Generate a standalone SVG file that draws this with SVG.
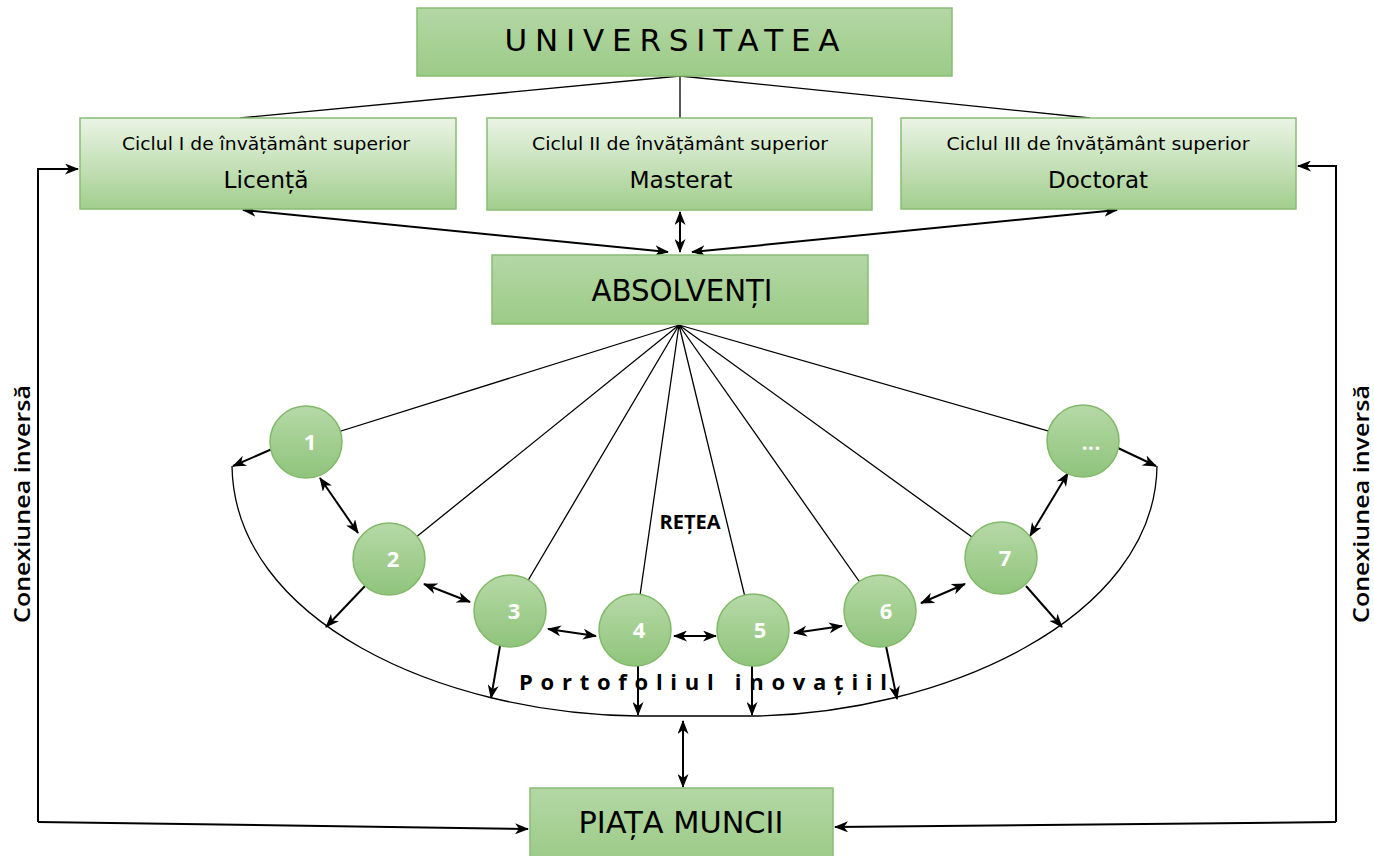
<svg xmlns="http://www.w3.org/2000/svg" width="1374" height="856" viewBox="0 0 1374 856">
<defs>
<linearGradient id="gBox" x1="0" y1="0" x2="0" y2="1">
<stop offset="0" stop-color="#b4d7a5"/><stop offset="1" stop-color="#9ccb87"/>
</linearGradient>
<linearGradient id="gCyc" x1="0" y1="0" x2="0" y2="1">
<stop offset="0" stop-color="#eaf4e5"/><stop offset="1" stop-color="#a2ce8e"/>
</linearGradient>
<linearGradient id="gCir" x1="0" y1="0" x2="0" y2="1">
<stop offset="0" stop-color="#b6d9a7"/><stop offset="1" stop-color="#8fc47b"/>
</linearGradient>
<marker id="ah" viewBox="0 0 14 11" refX="13" refY="5.5" markerWidth="14" markerHeight="11" orient="auto-start-reverse" markerUnits="userSpaceOnUse">
<path d="M0,0 L14,5.5 L0,11 L4,5.5 z" fill="#000"/>
</marker>
</defs>
<style>
.box{fill:url(#gBox);stroke:#88bd74;stroke-width:1.5}
.cyc{fill:url(#gCyc);stroke:#88bd74;stroke-width:1.5}
.cir{fill:url(#gCir);stroke:#80b968;stroke-width:1.5}
.ln{stroke:#000;stroke-width:1.3;fill:none}
.ar{stroke:#000;stroke-width:2;fill:none;marker-end:url(#ah)}
.da{stroke:#000;stroke-width:2;fill:none;marker-end:url(#ah);marker-start:url(#ah)}
.t{font-family:"DejaVu Sans",Verdana,sans-serif;fill:#000;text-anchor:middle}
.num{font-family:"Open Sans","DejaVu Sans",sans-serif;font-weight:bold;font-size:22px;fill:#fff;text-anchor:middle}
.b{font-family:"Open Sans","DejaVu Sans",sans-serif;font-weight:bold;fill:#000;text-anchor:middle}
</style>
<rect width="1374" height="856" fill="#fff"/>
<g id="connectors">
<path class="ln" d="M680,76 L240,118 M680,76 L680,118 M680,76 L1090,118"/>
<line class="da" x1="680" y1="212" x2="680" y2="252"/>
<line class="da" x1="668" y1="252" x2="243" y2="210"/>
<line class="da" x1="692" y1="252" x2="1117" y2="210"/>
<path class="ln" d="M679,325 L306,442 M679,325 L389,559 M679,325 L510,611 M679,325 L635,630 M679,325 L753,630 M679,325 L880,611 M679,325 L1001,558 M679,325 L1083,441"/>
<path class="ln" d="M232,466 C234,620 440,714 638,716 L752,716 C940,714 1155,620 1157,466"/>
<line class="ar" x1="272" y1="449" x2="233" y2="466"/>
<line class="ar" x1="365" y1="586" x2="326" y2="627"/>
<line class="ar" x1="500" y1="646" x2="491" y2="698"/>
<line class="ar" x1="638" y1="666" x2="638" y2="715"/>
<line class="ar" x1="752" y1="666" x2="752" y2="715"/>
<line class="ar" x1="886" y1="646" x2="897" y2="699"/>
<line class="ar" x1="1026" y1="586" x2="1062" y2="627"/>
<line class="ar" x1="1118" y1="448" x2="1156" y2="466"/>
<line class="da" x1="320" y1="478" x2="358" y2="533"/>
<line class="da" x1="424" y1="584" x2="470" y2="602"/>
<line class="da" x1="548" y1="629" x2="596" y2="636"/>
<line class="da" x1="674" y1="636" x2="716" y2="636"/>
<line class="da" x1="794" y1="633" x2="842" y2="626"/>
<line class="da" x1="921" y1="603" x2="965" y2="584"/>
<line class="da" x1="1030" y1="536" x2="1068" y2="473"/>
<line class="da" x1="683" y1="721" x2="683" y2="787"/>
<polyline class="ar" points="38,822 38,169 78,169"/>
<polyline class="ar" points="38,822 528,829"/>
<polyline class="ar" points="1336,822 1336,166 1298,166"/>
<polyline class="ar" points="1336,822 835,827"/>
</g>
<g id="universitatea">
<rect class="box" x="417" y="8" width="535" height="68"/>
<text class="t" x="672" y="51" font-size="31" textLength="335" lengthAdjust="spacing">UNIVERSITATEA</text>
</g>
<g id="licenta">
<rect class="cyc" x="80" y="118" width="376" height="91"/>
<text class="t" x="266" y="150" font-size="18" textLength="288" lengthAdjust="spacingAndGlyphs">Ciclul I de învățământ superior</text>
<text class="t" x="266" y="188" font-size="23" textLength="85" lengthAdjust="spacingAndGlyphs">Licență</text>
</g>
<g id="masterat">
<rect class="cyc" x="487" y="118" width="385" height="92"/>
<text class="t" x="680" y="150" font-size="18" textLength="296" lengthAdjust="spacingAndGlyphs">Ciclul II de învățământ superior</text>
<text class="t" x="681" y="188" font-size="23" textLength="103" lengthAdjust="spacingAndGlyphs">Masterat</text>
</g>
<g id="doctorat">
<rect class="cyc" x="901" y="118" width="395" height="91"/>
<text class="t" x="1098" y="150" font-size="18" textLength="303" lengthAdjust="spacingAndGlyphs">Ciclul III de învățământ superior</text>
<text class="t" x="1098" y="188" font-size="23" textLength="100" lengthAdjust="spacingAndGlyphs">Doctorat</text>
</g>
<g id="absolventi">
<rect class="box" x="492" y="255" width="376" height="69"/>
<text class="t" x="682" y="301" font-size="31" textLength="181" lengthAdjust="spacingAndGlyphs">ABSOLVENȚI</text>
</g>
<g id="piata">
<rect class="box" x="530" y="788" width="303" height="72"/>
<text class="t" x="681" y="833" font-size="31" textLength="205" lengthAdjust="spacingAndGlyphs">PIAȚA MUNCII</text>
</g>
<g id="n1"><circle class="cir" cx="306" cy="442" r="36"/><text class="num" x="310" y="450">1</text></g>
<g id="n2"><circle class="cir" cx="389" cy="559" r="36"/><text class="num" x="393" y="567">2</text></g>
<g id="n3"><circle class="cir" cx="510" cy="611" r="36"/><text class="num" x="514" y="619">3</text></g>
<g id="n4"><circle class="cir" cx="635" cy="630" r="36"/><text class="num" x="639" y="638">4</text></g>
<g id="n5"><circle class="cir" cx="753" cy="630" r="36"/><text class="num" x="760" y="638">5</text></g>
<g id="n6"><circle class="cir" cx="880" cy="611" r="36"/><text class="num" x="886" y="619">6</text></g>
<g id="n7"><circle class="cir" cx="1001" cy="558" r="36"/><text class="num" x="1005" y="566">7</text></g>
<g id="n8"><circle class="cir" cx="1083" cy="441" r="36"/><text class="num" x="1091" y="450">...</text></g>
<g id="labels">
<text class="b" x="690" y="529" font-size="20">REȚEA</text>
<text class="b" x="703" y="690" font-size="22" textLength="368" lengthAdjust="spacing">Portofoliul inovațiil</text>
<text class="b" x="0" y="0" font-size="21" transform="translate(30,504) rotate(-90)" textLength="238" lengthAdjust="spacingAndGlyphs" style="font-weight:600">Conexiunea inversă</text>
<text class="b" x="0" y="0" font-size="21" transform="translate(1369,504) rotate(-90)" textLength="238" lengthAdjust="spacingAndGlyphs" style="font-weight:600">Conexiunea inversă</text>
</g>
</svg>
